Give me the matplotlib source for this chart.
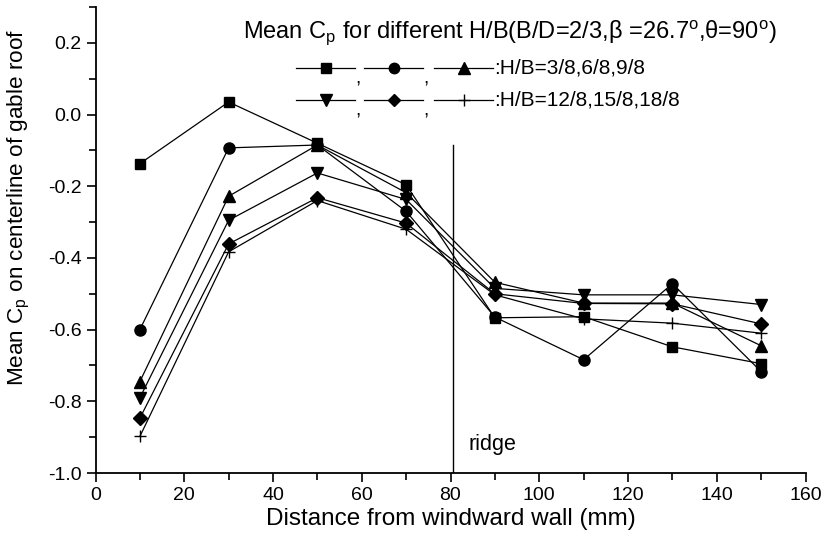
'''Mean Cp along the centerline of a gable roof for several H/B ratios.'''

import matplotlib
matplotlib.use('Agg')
import matplotlib.pyplot as plt
from matplotlib.lines import Line2D
from matplotlib.ticker import MultipleLocator, FormatStrFormatter

plt.rcParams['font.family'] = ['Liberation Sans', 'DejaVu Sans']
plt.rcParams['mathtext.fontset'] = 'custom'
plt.rcParams['mathtext.rm'] = 'Liberation Sans'
plt.rcParams['mathtext.it'] = 'Liberation Sans'

# distance from windward wall (mm)
distance = [10, 30, 50, 70, 90, 110, 130, 150]

# mean Cp, one list per H/B
cp_3_8 = [-0.137, 0.035, -0.080, -0.196, -0.567, -0.564, -0.648, -0.695]
cp_6_8 = [-0.600, -0.093, -0.085, -0.270, -0.565, -0.684, -0.472, -0.717]
cp_9_8 = [-0.745, -0.228, -0.085, -0.218, -0.468, -0.526, -0.526, -0.645]
cp_12_8 = [-0.790, -0.295, -0.163, -0.237, -0.485, -0.503, -0.503, -0.530]
cp_15_8 = [-0.847, -0.361, -0.232, -0.303, -0.500, -0.527, -0.528, -0.584]
cp_18_8 = [-0.898, -0.383, -0.240, -0.320, -0.503, -0.570, -0.582, -0.610]

series = [cp_3_8, cp_6_8, cp_9_8, cp_12_8, cp_15_8, cp_18_8]
markers = ['s', 'o', '^', 'v', 'D', '+']
msizes = [7.2, 8, 8.5, 8.5, 7, 9]

ridge_x = 80.5
ridge_top = -0.084

W, H = 823, 543
fig = plt.figure(figsize=(W / 100, H / 100), dpi=100)
ax = fig.add_axes([95.5 / W, 70 / H, 710 / W, 466 / H])

for cp, m, ms in zip(series, markers, msizes):
    ax.plot(distance, cp, color='black', lw=0.9, marker=m, ms=ms,
            mfc='black', mec='black', mew=1.0)

# ridge position
ax.plot([ridge_x, ridge_x], [-1.0, ridge_top], color='black', lw=1.0)
ax.text(84, -0.92, 'ridge', fontsize=15.5, va='center', ha='left')

ax.set_xlim(0, 160)
ax.set_ylim(-1.0, 0.3)
ax.xaxis.set_major_locator(MultipleLocator(20))
ax.xaxis.set_minor_locator(MultipleLocator(10))
ax.yaxis.set_major_locator(MultipleLocator(0.2))
ax.yaxis.set_minor_locator(MultipleLocator(0.1))
ax.yaxis.set_major_formatter(FormatStrFormatter('%.1f'))
ax.tick_params(which='major', direction='out', length=6.5, width=1.2, labelsize=14)
ax.tick_params(which='minor', direction='out', length=5, width=1.2)
for side in ['top', 'right']:
    ax.spines[side].set_visible(False)
for side in ['left', 'bottom']:
    ax.spines[side].set_linewidth(1.3)

ax.set_xlabel('Distance from windward wall (mm)', fontsize=17.5, labelpad=3)
ax.set_ylabel('Mean C$_\\mathregular{p}$ on centerline of gable roof', fontsize=16.2)
ax.yaxis.set_label_coords(-0.09, 0.57)

# hand-built legend block in the top right
def fx(px):
    return px / W


def fy(py):
    return 1 - py / H


fig.text(fx(243), fy(33),
         'Mean C$_\\mathregular{p}$ for different H/B(B/D=2/3,$\\beta$ =26.7$^\\mathregular{o}$,'
         '$\\theta$=90$^\\mathregular{o}$)', fontsize=17, va='center', ha='left')

rows = [(68, markers[:3], ':H/B=3/8,6/8,9/8'),
        (100, markers[3:], ':H/B=12/8,15/8,18/8')]
starts = [296, 364, 434]
seg = 59
for ypx, mks, label in rows:
    for i, (x0, m) in enumerate(zip(starts, mks)):
        ms = msizes[markers.index(m)] - 0.5
        fig.add_artist(Line2D([fx(x0), fx(x0 + seg / 2), fx(x0 + seg)],
                              [fy(ypx)] * 3, color='black', lw=0.9,
                              marker=m, markevery=[1], ms=ms,
                              mfc='black', mec='black'))
        if i < 2:
            fig.text(fx(x0 + seg + 3), fy(ypx + 2), ',', fontsize=14,
                     va='top', ha='center')
    fig.text(fx(starts[-1] + seg + 1), fy(ypx), label, fontsize=15,
             va='center', ha='left')

fig.savefig('out.png', dpi=100)
